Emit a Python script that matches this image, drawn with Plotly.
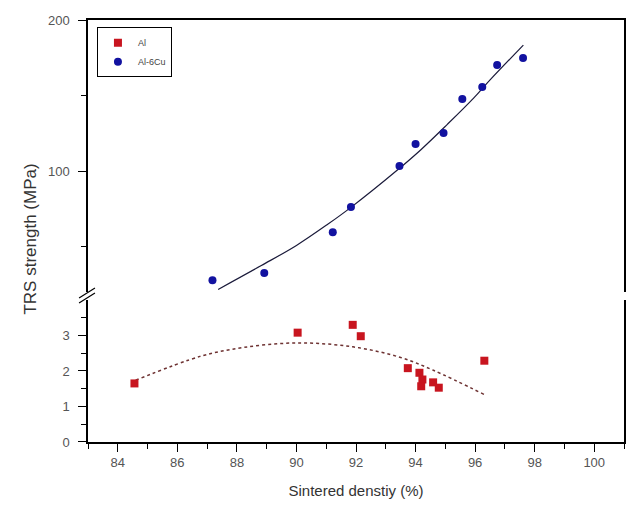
import plotly.graph_objects as go

# ---- data ----
al_x = [84.56, 90.04, 91.89, 92.16, 93.74, 94.13, 94.23, 94.19, 94.59, 94.78, 96.31]
al_y = [1.65, 3.08, 3.30, 2.98, 2.08, 1.95, 1.76, 1.57, 1.68, 1.53, 2.29]
cu_x = [87.18, 88.92, 91.22, 91.83, 93.46, 94.00, 94.94, 95.57, 96.24, 96.74, 97.61]
cu_y = [27.8, 32.5, 59.6, 76.2, 103.3, 117.9, 125.2, 147.7, 155.6, 170.2, 174.8]

al_fit_x = [84.6, 86.8, 88.2, 90.0, 91.9, 93.5, 94.6, 96.3]
al_fit_y = [1.74, 2.42, 2.66, 2.79, 2.68, 2.38, 2.02, 1.34]
cu_fit_x = [87.37, 88.82, 90.0, 91.05, 91.83, 93.39, 94.17, 95.06, 95.95, 96.51, 97.62]
cu_fit_y = [21.7, 37.5, 50.8, 64.8, 76.0, 100.7, 114.0, 130.8, 148.3, 160.5, 183.4]

x_ticks = [84, 86, 88, 90, 92, 94, 96, 98, 100]
low_ticks = [0, 1, 2, 3]
high_ticks = [100, 200]

RED = "#c8151f"
BLUE = "#1212a0"
FONT = "Liberation Sans"
TICKC = "#555555"

fig = go.Figure()

fig.add_trace(go.Scatter(x=al_fit_x, y=al_fit_y, mode="lines", line=dict(color="#6e3232", width=1.5, dash="3px,3px", shape="spline"),
                         showlegend=False, xaxis="x", yaxis="y", hoverinfo="skip"))
fig.add_trace(go.Scatter(x=al_x, y=al_y, mode="markers", name="Al",
                         marker=dict(symbol="square", size=8, color=RED), xaxis="x", yaxis="y"))
fig.add_trace(go.Scatter(x=cu_fit_x, y=cu_fit_y, mode="lines", line=dict(color="#1a1a3a", width=1.2, shape="spline"),
                         showlegend=False, xaxis="x2", yaxis="y2", hoverinfo="skip"))
fig.add_trace(go.Scatter(x=cu_x, y=cu_y, mode="markers", name="Al-6Cu",
                         marker=dict(symbol="circle", size=8, color=BLUE), xaxis="x2", yaxis="y2"))

axis_common = dict(showgrid=False, zeroline=False, showline=True, linecolor="black", linewidth=1.5)

fig.update_layout(
    width=630, height=518,
    margin=dict(l=88, r=4, t=20, b=76),
    paper_bgcolor="white", plot_bgcolor="white",
    font=dict(family=FONT, color=TICKC),
    xaxis=dict(**axis_common, range=[83, 101], tickvals=x_ticks, ticks="outside", ticklen=8, tickwidth=1.2,
               tickcolor="black", tickfont=dict(size=13, color=TICKC),
               minor=dict(dtick=1, tick0=83, ticks="outside", ticklen=5, tickcolor="black", tickwidth=1.2),
               anchor="y",
               title=dict(text="Sintered denstiy (%)", font=dict(size=15, color="#333333"), standoff=16)),
    xaxis2=dict(**axis_common, matches="x", range=[83, 101], anchor="y2", side="top",
                showticklabels=False, ticks=""),
    yaxis=dict(**axis_common, domain=[0, 0.3365], range=[0, 4], tickvals=low_ticks, ticks="outside",
               ticklen=8, tickwidth=1.2, tickcolor="black", mirror=True, anchor="x",
               tickfont=dict(size=13, color=TICKC), ticklabelstandoff=6,
               minor=dict(tickvals=[0.5, 1.5, 2.5, 3.5], ticks="outside", ticklen=5, tickcolor="black", tickwidth=1.2)),
    yaxis2=dict(**axis_common, domain=[0.3555, 1], range=[20, 200], tickvals=high_ticks, ticks="outside",
                ticklen=8, tickwidth=1.2, tickcolor="black", mirror=True, anchor="x2",
                tickfont=dict(size=13, color=TICKC), ticklabelstandoff=6,
                minor=dict(tickvals=[50, 150], ticks="outside", ticklen=5, tickcolor="black", tickwidth=1.2)),
    legend=dict(x=0.0167, y=0.983, xanchor="left", yanchor="top", bordercolor="black", borderwidth=1,
                bgcolor="white", font=dict(size=9, color="#444444"), tracegroupgap=0),
    showlegend=True,
)

# axis-break marks
for y0, y1 in [(0.3412, 0.3649), (0.3294, 0.3531)]:
    fig.add_shape(type="line", xref="paper", yref="paper", x0=-0.0167, y0=y0, x1=0.013, y1=y1,
                  line=dict(color="black", width=1.2))

fig.add_annotation(text="TRS strength (MPa)", xref="paper", yref="paper", x=-0.108, y=0.48,
                   textangle=-90, showarrow=False, xanchor="center", yanchor="middle",
                   font=dict(size=17, color="#333333", family=FONT))

fig.write_html("out.html")
